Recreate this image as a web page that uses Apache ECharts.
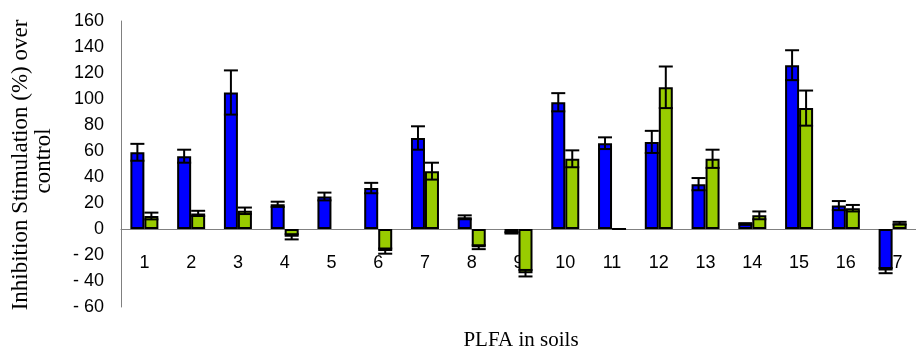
<!DOCTYPE html>
<html>
<head>
<meta charset="utf-8">
<script src="https://cdn.jsdelivr.net/npm/echarts@6/dist/echarts.min.js"></script>
<style>
html,body{margin:0;padding:0;background:#fff;}
#chart{width:916px;height:353px;}
</style>
</head>
<body>
<div id="chart"></div>
<script>
const categories = ['1','2','3','4','5','6','7','8','9','10','11','12','13','14','15','16','17'];
const blueValues = [59, 56, 105, 19, 25, 31.5, 70, 9, -3, 97.5, 66, 67, 34.5, 4, 126, 18, -32];
const blueErrors = [6.5, 5, 17, 2, 3, 4, 9, 1.5, 0.5, 7, 4.5, 8.5, 4.7, 0.5, 11.5, 3.5, 2];
const greenValues = [10, 12, 14, -6, null, -17, 44.5, -14, -34, 54, 0, 109, 54, 10.5, 93, 16, 4.5];
const greenErrors = [2.6, 2, 2.5, 2, null, 2, 6.5, 1.5, 2.5, 6.5, 0, 16, 7, 3, 13.5, 2.5, 1];
const yMin = -60, yMax = 160, yStep = 20;
const yTitleLine1 = 'Inhibition Stimulation (%) over';
const yTitleLine2 = 'control';
const xTitle = 'PLFA in soils';

const BAR_W = 14;
const GRID_TOP = 21, GRID_H = 286;
const ZERO_OFFSET = -GRID_H * (0 - yMin) / (yMax - yMin); // move x axis up to the zero line

function errData(vals, errs) {
  return vals.map((v, i) => (v == null || errs[i] == null) ? [i, null, null] : [i, v, errs[i]]);
}
function errRenderer(offset) {
  return function (params, api) {
    const v = api.value(1), e = api.value(2);
    if (v == null || isNaN(v) || e == null || isNaN(e) || e === 0) return null;
    const i = api.value(0);
    const top = api.coord([i, v + e]);
    const bot = api.coord([i, v - e]);
    const cx = top[0] + offset;
    const hw = 7;
    const st = { stroke: '#000', lineWidth: 2 };
    return {
      type: 'group',
      children: [
        { type: 'line', shape: { x1: cx, y1: top[1], x2: cx, y2: bot[1] }, style: st },
        { type: 'line', shape: { x1: cx - hw, y1: top[1], x2: cx + hw, y2: top[1] }, style: st },
        { type: 'line', shape: { x1: cx - hw, y1: bot[1], x2: cx + hw, y2: bot[1] }, style: st }
      ]
    };
  };
}

const serif = '"Liberation Serif", "Times New Roman", serif';
const chart = echarts.init(document.getElementById('chart'), null, { renderer: 'canvas' });
chart.setOption({
  animation: false,
  backgroundColor: '#fff',
  grid: { left: 121, top: GRID_TOP, width: 802, height: GRID_H },
  xAxis: {
    type: 'category',
    data: categories,
    position: 'bottom',
    offset: ZERO_OFFSET,
    axisLine: { show: true, onZero: false, lineStyle: { color: '#808080', width: 1 } },
    axisTick: { show: false },
    axisLabel: { color: '#000', fontFamily: 'Liberation Sans, Arial, sans-serif', fontSize: 18, margin: 25, interval: 0 },
    splitLine: { show: false }
  },
  yAxis: {
    type: 'value',
    min: yMin, max: yMax, interval: yStep,
    axisLine: { show: true, lineStyle: { color: '#808080', width: 1 } },
    axisTick: { show: false },
    splitLine: { show: false },
    axisLabel: {
      color: '#000', fontFamily: 'Liberation Sans, Arial, sans-serif', fontSize: 18, margin: 17,
      formatter: v => v < 0 ? '- ' + (-v) : String(v)
    }
  },
  graphic: [
    {
      type: 'text', x: 21, y: 165, rotation: Math.PI / 2,
      style: { text: yTitleLine1, font: '23px ' + serif, fill: '#000', align: 'center', verticalAlign: 'middle' }
    },
    {
      type: 'text', x: 44, y: 161, rotation: Math.PI / 2,
      style: { text: yTitleLine2, font: '23px ' + serif, fill: '#000', align: 'center', verticalAlign: 'middle' }
    },
    {
      type: 'text', x: 521, y: 340,
      style: { text: xTitle, font: '21px ' + serif, fill: '#000', align: 'center', verticalAlign: 'middle' }
    }
  ],
  series: [
    {
      type: 'bar', name: 'A', data: blueValues, barWidth: BAR_W, barGap: '0%',
      itemStyle: { color: '#0000FF', borderColor: '#000', borderWidth: 2 }, z: 3
    },
    {
      type: 'bar', name: 'B', data: greenValues, barWidth: BAR_W, barGap: '0%',
      itemStyle: { color: '#99CC00', borderColor: '#000', borderWidth: 2 }, z: 3
    },
    {
      type: 'custom', name: 'errA', data: errData(blueValues, blueErrors),
      renderItem: errRenderer(-BAR_W / 2), encode: { x: 0, y: 1 }, z: 5
    },
    {
      type: 'custom', name: 'errB', data: errData(greenValues, greenErrors),
      renderItem: errRenderer(BAR_W / 2), encode: { x: 0, y: 1 }, z: 5
    }
  ]
});
</script>
</body>
</html>
